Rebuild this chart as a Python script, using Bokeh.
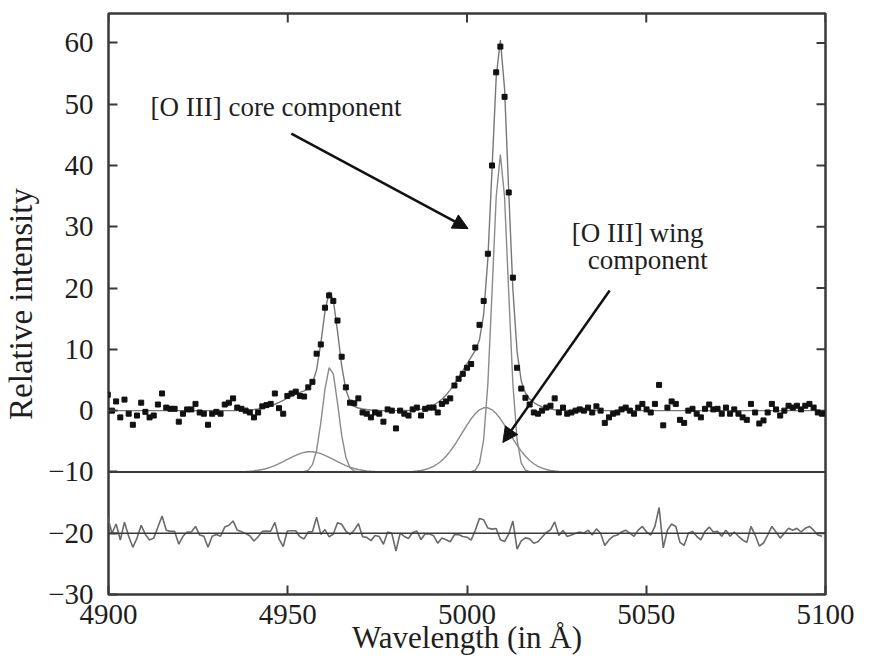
from bokeh.plotting import figure
from bokeh.models import Range1d, FixedTicker, Arrow, NormalHead, Label, Span
from bokeh.embed import file_html
from bokeh.resources import INLINE

# ---------------- data ----------------
wl_start = 4899.8          # first sampled wavelength (Angstrom)
wl_step = 1.165            # sampling step (Angstrom)

flux = [
    2.6, 0.0, 1.5, -1.1, 1.8, -0.5, -2.3, -0.8, 1.3, -0.2,
    -1.1, -0.8, 1.0, 2.8, 0.5, 0.3, 0.3, -1.8, -0.5, 0.2,
    0.2, 1.1, -0.3, -0.5, -2.3, -0.5, -0.2, -0.5, 1.0, 1.3,
    2.0, 0.5, 0.3, 0.0, -0.3, -1.1, -0.3, 0.7, 0.9, 1.1,
    2.8, 0.4, -0.5, 2.4, 2.8, 3.1, 2.4, 2.3, 3.8, 4.7,
    9.3, 10.8, 16.8, 18.8, 17.9, 14.7, 8.8, 3.8, 1.3, 1.2,
    2.0, -0.3, -0.5, -1.1, -0.3, -0.5, -1.8, 0.2, 0.0, -2.9,
    0.0, -0.5, -0.8, 0.2, 0.5, -0.8, 0.3, 0.5, 0.5, -0.3,
    1.1, 1.5, 2.0, 4.1, 5.2, 6.0, 7.0, 7.6, 10.3, 14.0,
    17.9, 25.6, 40.0, 55.2, 59.4, 51.2, 35.6, 21.7, 7.0, 3.6,
    2.1, 1.0,
    -0.3, -0.5, 0.0, 0.5, 0.8, 2.0, -0.3, 0.5, -0.5, -0.3,
    0.0, 0.2, 0.0, 0.5, -0.3, 0.7, 0.0, -2.0, -1.1, -0.5,
    -0.3, 0.2, 0.5, 0.0, -0.5, 0.5, 1.1, 0.2, -0.3, 1.1,
    4.2, -2.4, 0.5, 1.5, 1.1, -1.5, -2.0, 0.0, 0.3, -0.5,
    -1.1, 0.3, 1.0, 0.2, 0.3, -0.5, 0.5, -0.5, 0.2, -0.5,
    -1.1, -1.5, 1.1, -0.3, -2.1, -1.6, -0.3, 1.1, 0.2, -0.8,
    0.0, 0.8, 0.5, 0.8, 0.2, 0.8, 1.1, 0.5, -0.3, -0.5,
]

# fitted Gaussian components (value at each sample, starting at a sample index)
core4959_first = 47
core4959 = [0.05, 0.29, 1.18, 3.5, 8.0, 13.5, 17.0, 16.0, 11.3, 6.0, 2.4, 0.70, 0.15, 0.03]

wing4959_first = 32
wing4959 = [0.04, 0.07, 0.11, 0.18, 0.27, 0.40, 0.56, 0.78, 1.04, 1.34, 1.68, 2.03,
            2.39, 2.71, 2.99, 3.18, 3.29, 3.29, 3.18, 2.99, 2.71, 2.39, 2.03, 1.68,
            1.34, 1.04, 0.78, 0.56, 0.40, 0.27, 0.18, 0.11, 0.07, 0.04]

core5007_first = 87
core5007 = [0.05, 0.30, 1.45, 5.26, 14.3, 29.2, 44.9, 51.8, 44.9, 29.2, 14.3, 5.26,
            1.45, 0.30, 0.05]

wing5007_first = 71
wing5007 = [0.03, 0.05, 0.09, 0.15, 0.24, 0.39, 0.61, 0.91, 1.33, 1.87, 2.56, 3.39,
            4.35, 5.42, 6.54, 7.65, 8.67, 9.52, 10.13, 10.46, 10.46, 10.13, 9.52, 8.67,
            7.65, 6.54, 5.42, 4.35, 3.39, 2.56, 1.87, 1.33, 0.91, 0.61, 0.39, 0.24,
            0.15, 0.09, 0.05, 0.03]

component_offset = -10     # components are drawn shifted to -10
residual_offset = -20      # residuals are drawn shifted to -20

x_ticks = [4900, 4950, 5000, 5050, 5100]
y_ticks = [-30, -20, -10, 0, 10, 20, 30, 40, 50, 60]

x_title = "Wavelength (in Å)"
y_title = "Relative intensity"
core_label = "[O III] core component"
wing_label_1 = "[O III] wing"
wing_label_2 = "component"

# ---------------- derived series ----------------
wl = [round(wl_start + wl_step * i, 3) for i in range(len(flux))]
components = [(core4959_first, core4959), (wing4959_first, wing4959),
              (core5007_first, core5007), (wing5007_first, wing5007)]
fit = [0.0] * len(flux)
for first, vals in components:
    for k, v in enumerate(vals):
        fit[first + k] += v
residual = [f - m + residual_offset for f, m in zip(flux, fit)]

# ---------------- styles / layout ----------------
FONT = "Liberation Serif"
FRAME = "#3a3a3a"
TXT = "#1e1e1e"
X0, X1 = 4900, 5100
Y0, Y1 = -30, 64.8
FRAME_W, FRAME_H = 717, 581
TICK_PX = 9

p = figure(frame_width=FRAME_W, frame_height=FRAME_H, output_backend="svg",
           toolbar_location=None,
           x_range=Range1d(X0, X1), y_range=Range1d(Y0, Y1),
           min_border_left=102, min_border_right=34, min_border_top=13,
           min_border_bottom=63, background_fill_color="white",
           border_fill_color="white")
p.grid.visible = False
p.outline_line_color = FRAME
p.outline_line_width = 2.5

for ax in (p.xaxis[0], p.yaxis[0]):
    ax.axis_line_color = None
    ax.major_tick_in = TICK_PX
    ax.major_tick_out = 0
    ax.major_tick_line_color = FRAME
    ax.major_tick_line_width = 2
    ax.minor_tick_line_color = None
    ax.major_label_text_font = FONT
    ax.major_label_text_font_size = "29px"
    ax.major_label_text_color = TXT
    ax.axis_label_text_font = FONT
    ax.axis_label_text_font_style = "normal"
    ax.axis_label_text_color = TXT

p.xaxis[0].ticker = FixedTicker(ticks=x_ticks)
p.yaxis[0].ticker = FixedTicker(ticks=y_ticks)
p.xaxis[0].axis_label = x_title
p.yaxis[0].axis_label = y_title
p.xaxis[0].axis_label_text_font_size = "31px"
p.yaxis[0].axis_label_text_font_size = "33px"
p.xaxis[0].major_label_standoff = 10
p.yaxis[0].major_label_standoff = 15
p.xaxis[0].axis_label_standoff = -7
p.yaxis[0].axis_label_standoff = 6

# mirrored ticks on the top and right edges of the frame
dy_tick = TICK_PX * (Y1 - Y0) / FRAME_H
dx_tick = TICK_PX * (X1 - X0) / FRAME_W
p.segment(x0=x_ticks, y0=[Y1] * len(x_ticks), x1=x_ticks,
          y1=[Y1 - dy_tick] * len(x_ticks), line_color=FRAME, line_width=2)
p.segment(x0=[X1] * len(y_ticks), y0=y_ticks, x1=[X1 - dx_tick] * len(y_ticks),
          y1=y_ticks, line_color=FRAME, line_width=2)

# baselines
p.add_layout(Span(location=component_offset, dimension="width",
                  line_color=FRAME, line_width=2))
p.add_layout(Span(location=residual_offset, dimension="width",
                  line_color=FRAME, line_width=1.6))

# residuals
p.line(wl, residual, line_color="#6a6a6a", line_width=1.6)

# components, drawn at the -10 offset
for first, vals in components:
    xs = wl[first:first + len(vals)]
    ys = [v + component_offset for v in vals]
    p.line(xs, ys, line_color="#8a8a8a", line_width=1.4)

# total fit
p.line(wl, fit, line_color="#777777", line_width=1.4)

# observed points
p.scatter(wl, flux, marker="square", size=5, fill_color="#111111",
          line_color="#111111")

# annotations
core_arrow = dict(x_start=4951.0, y_start=45.2, x_end=5000.3, y_end=29.7)
wing_arrow = dict(x_start=5039.8, y_start=19.6, x_end=5010.0, y_end=-5.2)
for a in (core_arrow, wing_arrow):
    p.add_layout(Arrow(end=NormalHead(size=15, fill_color="#111111",
                                      line_color="#111111", line_width=1),
                       line_color="#111111", line_width=2.5, **a))

p.add_layout(Label(x=4911.7, y=49.6, text=core_label, text_font=FONT,
                   text_font_size="27px", text_color=TXT, text_baseline="middle",
                   text_align="left"))
p.add_layout(Label(x=5047.6, y=29.0, text=wing_label_1, text_font=FONT,
                   text_font_size="27px", text_color=TXT, text_baseline="middle",
                   text_align="center"))
p.add_layout(Label(x=5050.4, y=24.6, text=wing_label_2, text_font=FONT,
                   text_font_size="27px", text_color=TXT, text_baseline="middle",
                   text_align="center"))

open("out.html", "w").write(file_html(p, INLINE))
